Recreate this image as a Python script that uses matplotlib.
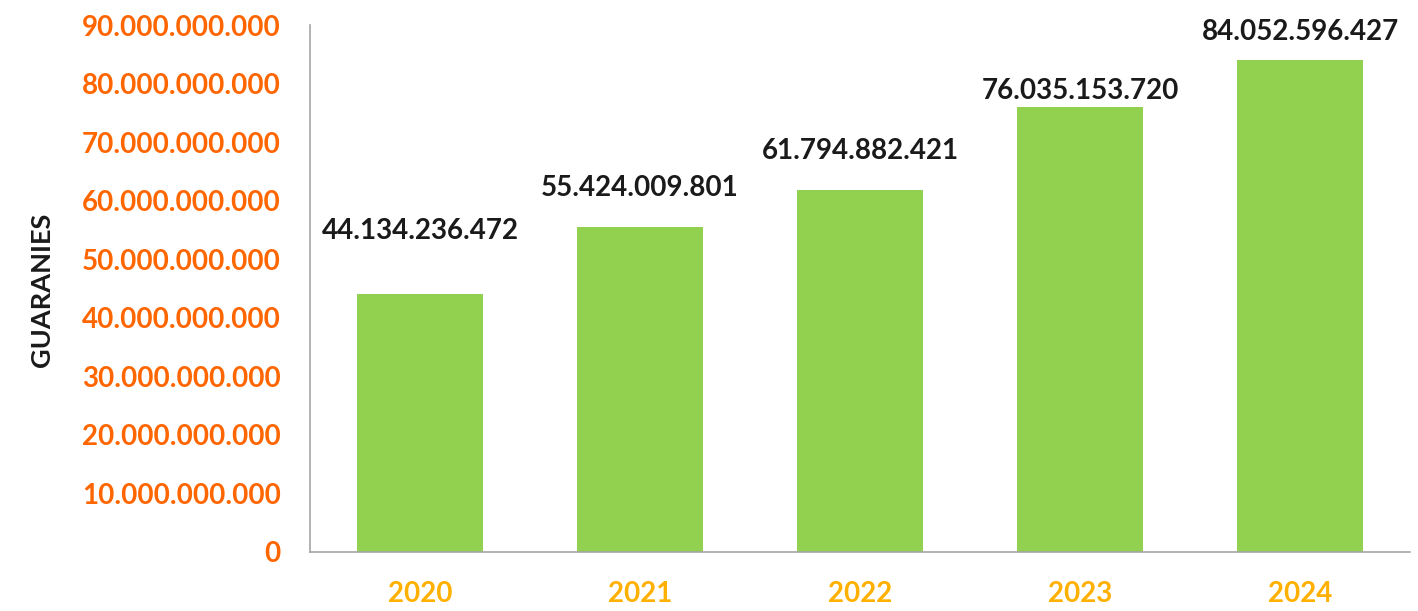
import matplotlib
matplotlib.use("Agg")
import matplotlib.pyplot as plt
from matplotlib.ticker import FuncFormatter

years = ["2020", "2021", "2022", "2023", "2024"]
values = [44134236472, 55424009801, 61794882421, 76035153720, 84052596427]
value_labels = ["44.134.236.472", "55.424.009.801", "61.794.882.421", "76.035.153.720", "84.052.596.427"]
label_offsets = [36, 19, 19, 2, 11]  # points above bar top

plt.rcParams['font.family'] = ['Lato', 'DejaVu Sans']

fig = plt.figure(figsize=(14.18, 6.11), dpi=100)
ax = fig.add_axes([0.2186, 0.0966, 0.7758, 0.8624])

x = range(len(years))
ax.bar(x, values, width=0.57, color="#92D050", zorder=2)

for i, (v, lab, off) in enumerate(zip(values, value_labels, label_offsets)):
    ax.annotate(lab, (i, v), xytext=(0, off), textcoords="offset points",
                ha="center", va="bottom", fontsize=20, fontweight="bold", color="#1a1a1a")

ax.set_xlim(-0.5, 4.5)
ax.set_ylim(0, 90e9)
ax.set_yticks([i * 10e9 for i in range(10)])

def fmt(v, pos):
    if v == 0:
        return "0"
    return f"{int(round(v)):,}".replace(",", ".")

ax.yaxis.set_major_formatter(FuncFormatter(fmt))
ax.set_xticks(list(x))
ax.set_xticklabels(years)

for t in ax.get_yticklabels():
    t.set_color("#FF6600")
    t.set_fontweight("bold")
    t.set_fontsize(20)
for t in ax.get_xticklabels():
    t.set_color("#FFB000")
    t.set_fontweight("bold")
    t.set_fontsize(20)

ax.tick_params(axis="y", length=0, pad=21)
ax.tick_params(axis="x", length=0, pad=21)

for s in ["top", "right"]:
    ax.spines[s].set_visible(False)
for s in ["left", "bottom"]:
    ax.spines[s].set_color("#A6A6A6")
    ax.spines[s].set_linewidth(1.2)

fig.text(0.0296, 0.525, "GUARANIES", rotation=90, ha="center", va="center",
         fontsize=19.5, fontweight="bold", color="#1a1a1a")

fig.savefig("out.png", dpi=100, facecolor="white")
